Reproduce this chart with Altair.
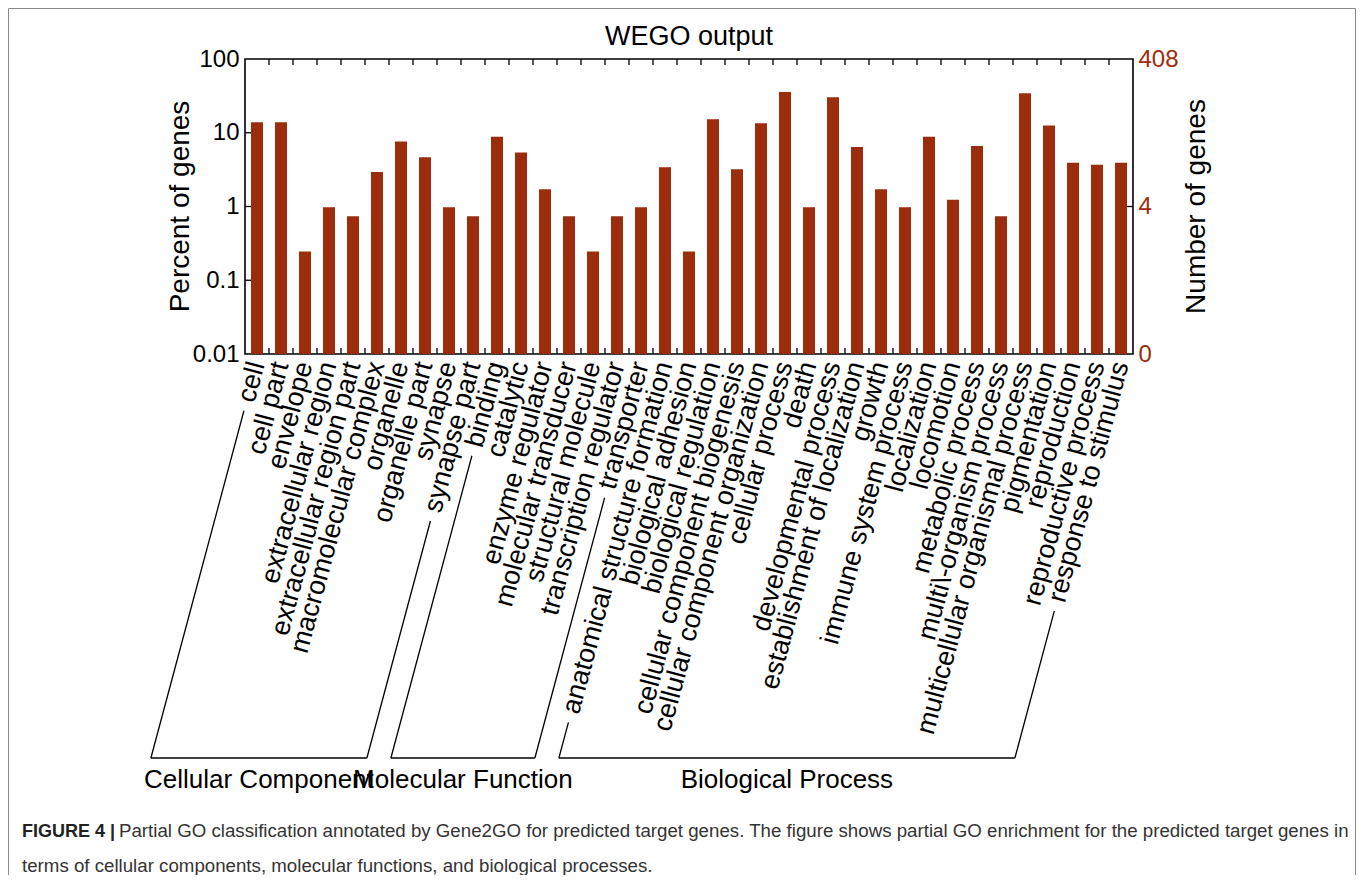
import math
import altair as alt
import pandas as pd

# ---------------- data ----------------
categories = [
    "cell", "cell part", "envelope", "extracellular region", "extracellular region part",
    "macromolecular complex", "organelle", "organelle part", "synapse", "synapse part",
    "binding", "catalytic", "enzyme regulator", "molecular transducer", "structural molecule",
    "transcription regulator", "transporter",
    "anatomical structure formation", "biological adhesion", "biological regulation",
    "cellular component biogenesis", "cellular component organization", "cellular process",
    "death", "developmental process", "establishment of localization", "growth",
    "immune system process", "localization", "locomotion", "metabolic process",
    "multi-organism process", "multicellular organismal process", "pigmentation",
    "reproduction", "reproductive process", "response to stimulus",
]
# label as printed in the figure for the one term with an escaped hyphen
escaped_term = "multi-organism process"
escaped_label = "multi\\-organism process"
percent = [
    13.9, 13.9, 0.245, 0.98, 0.735, 2.94, 7.6, 4.66, 0.98, 0.735,
    8.8, 5.4, 1.72, 0.735, 0.245, 0.735, 0.98,
    3.4, 0.245, 15.2, 3.2, 13.5, 35.8, 0.98, 30.4, 6.4, 1.72,
    0.98, 8.8, 1.23, 6.6, 0.735, 34.3, 12.5, 3.92, 3.68, 3.92,
]
group_names = ["Cellular Component", "Molecular Function", "Biological Process"]
group_sizes = [10, 7, 20]
left_ticks = [0.01, 0.1, 1, 10, 100]
right_ticks = [0.01, 1, 100]
right_labels = ["0", "4", "408"]
chart_title = "WEGO output"
y_title = "Percent of genes"
y2_title = "Number of genes"
caption_bold = "FIGURE 4 |"
caption_line1 = ("Partial GO classification annotated by Gene2GO for predicted target genes. "
                 "The figure shows partial GO enrichment for the predicted target genes in")
caption_line2 = "terms of cellular components, molecular functions, and biological processes."

# ---------------- layout / style ----------------
FONT = "Liberation Sans"
BAR = "#9B2D0D"
W, H = 888, 295
PAD_L, PAD_T, PAD_R, PAD_B = 237, 51, 224, 521
LAB_F = 27
LPAD = 8
ANG = math.radians(75)
GAP = 10
YB = 699  # bracket baseline (plot coords)

HELV = {
    "a": 556, "b": 556, "c": 500, "d": 556, "e": 556, "f": 278, "g": 556, "h": 556,
    "i": 222, "j": 222, "k": 500, "l": 222, "m": 833, "n": 556, "o": 556, "p": 556,
    "q": 556, "r": 333, "s": 500, "t": 278, "u": 556, "v": 500, "w": 722, "x": 500,
    "y": 500, "z": 500, " ": 278, "-": 333, "\\": 278,
}


def text_w(s, size):
    return sum(HELV.get(c, 556) for c in s) * size / 1000.0


step = W / len(categories)


def side(i):
    cx = (i + 0.5) * step
    L = text_w(categories[i], LAB_F)
    sx = cx - L * math.cos(ANG)
    sy = H + LPAD + L * math.sin(ANG)
    top = (sx - GAP * math.cos(ANG), sy + GAP * math.sin(ANG))
    bot = (sx - (YB - sy) / math.tan(ANG), YB)
    return top, bot


one = pd.DataFrame({"k": [0]})


def rule(x1, y1, x2, y2, color="black", w=1.3):
    return alt.Chart(one).mark_rule(color=color, strokeWidth=w).encode(
        x=alt.value(x1), y=alt.value(y1), x2=alt.value(x2), y2=alt.value(y2))


def txt(s, x, y, size, angle=0, weight="normal", align="center", baseline="middle", color="black"):
    return alt.Chart(one).mark_text(
        text=s, font=FONT, fontSize=size, angle=angle, fontWeight=weight,
        align=align, baseline=baseline, color=color,
    ).encode(x=alt.value(x), y=alt.value(y))


df = pd.DataFrame({"term": categories, "pct": percent})
yscale = alt.Scale(type="log", domain=[0.01, 100], nice=False)
xscale = alt.Scale(paddingInner=0, paddingOuter=0)
esc = escaped_label.replace("\\", "\\\\")
xaxis = alt.Axis(title=None, labelAngle=285, labelFontSize=LAB_F, labelFont=FONT,
                 labelColor="black", labelPadding=LPAD, labelLimit=1000, ticks=False,
                 domain=False, labelOverlap=False,
                 labelExpr=f"datum.label == '{escaped_term}' ? '{esc}' : datum.label")
xenc = alt.X("term:N", sort=categories, scale=xscale, axis=xaxis)

bars = alt.Chart(df).mark_bar(color=BAR, width=12).encode(
    x=xenc,
    y=alt.Y("pct:Q", scale=yscale, stack=None, axis=alt.Axis(
        orient="left", values=left_ticks, labelExpr="format(datum.value, '~g')", title=None,
        grid=False, domain=False, ticks=False, labelPadding=6, labelFontSize=24,
        labelFont=FONT, labelColor="black", labelOverlap=False, labelFlush=False)),
    y2=alt.value(H),
)

expr = "'" + right_labels[0] + "'"
for v, lab in zip(right_ticks[1:], right_labels[1:]):
    expr = f"datum.value == {v} ? '{lab}' : " + expr
right = alt.Chart(df).mark_point(opacity=0).encode(
    y=alt.Y("pct:Q", scale=yscale, axis=alt.Axis(
        orient="right", values=right_ticks, labelExpr=expr, title=None, grid=False,
        domain=False, ticks=False, labelPadding=5, labelFontSize=24, labelFont=FONT,
        labelColor=BAR, labelOverlap=False, labelFlush=False)),
)

tick_df = pd.DataFrame({"term": categories[1:]})
xt = alt.X("term:N", sort=categories, scale=xscale, axis=xaxis, bandPosition=0)
top_ticks = alt.Chart(tick_df).mark_rule(color="black", strokeWidth=1.3).encode(
    x=xt, y=alt.value(0), y2=alt.value(6))
bot_ticks = alt.Chart(tick_df).mark_rule(color="black", strokeWidth=1.3).encode(
    x=xt, y=alt.value(H), y2=alt.value(H - 6))
dec_df = pd.DataFrame({"v": left_ticks[1:-1]})
left_dec = alt.Chart(dec_df).mark_rule(color="black", strokeWidth=1.3).encode(
    y=alt.Y("v:Q", scale=yscale, axis=None), x=alt.value(0), x2=alt.value(6))
mid_df = pd.DataFrame({"v": right_ticks[1:-1]})
right_mid = alt.Chart(mid_df).mark_rule(color="black", strokeWidth=1.3).encode(
    y=alt.Y("v:Q", scale=yscale, axis=None), x=alt.value(W - 6), x2=alt.value(W))

layers = [bars, right, top_ticks, bot_ticks, left_dec, right_mid]

# group brackets
start = 0
for name, n in zip(group_names, group_sizes):
    (lt, lb) = side(start)
    (rt, rb) = side(start + n - 1)
    layers.append(rule(lt[0], lt[1], lb[0], lb[1]))
    layers.append(rule(rt[0], rt[1], rb[0], rb[1]))
    layers.append(rule(lb[0], YB, rb[0], YB))
    layers.append(txt(name, (lb[0] + rb[0]) / 2, YB + 22, 26))
    start += n

# titles
layers.append(txt(chart_title, W / 2, -22, 27))
layers.append(txt(y_title, -64, H / 2, 28, angle=270))
layers.append(txt(y2_title, W + 64, H / 2, 28, angle=270))

# caption
layers.append(txt(caption_bold, -223, 778, 18, weight="bold", align="left",
                  baseline="alphabetic", color="#222222"))
layers.append(txt(caption_line1, -126, 778, 18.7, align="left", baseline="alphabetic",
                  color="#333333"))
layers.append(txt(caption_line2, -223, 813, 18.7, align="left", baseline="alphabetic",
                  color="#333333"))

# outer frame
FC = "#8a8a8a"
fl, fr, ft, fb = -236.5, W + PAD_R - 1.5, -50.5, H + PAD_B
layers.append(rule(fl, ft, fr, ft, color=FC, w=1))
layers.append(rule(fl, ft, fl, fb, color=FC, w=1))
layers.append(rule(fr, ft, fr, fb, color=FC, w=1))

chart = alt.layer(*layers).resolve_scale(y="independent").properties(
    width=W, height=H,
    autosize=alt.AutoSizeParams(type="none"),
    padding={"left": PAD_L, "top": PAD_T, "right": PAD_R, "bottom": PAD_B},
    background="white",
).configure_view(stroke="black", strokeWidth=1.6)

chart.save("out.html", embed_options={"renderer": "svg", "actions": False})
